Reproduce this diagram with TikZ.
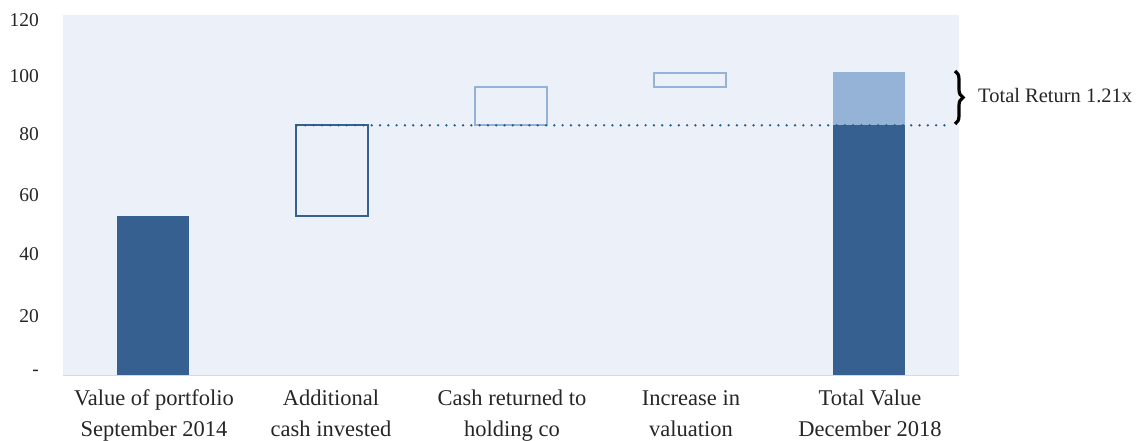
\documentclass[tikz,border=0pt]{standalone}
\usepackage{fontspec}
\setmainfont{Liberation Serif}
\usetikzlibrary{decorations.pathreplacing}
\definecolor{bgc}{HTML}{ECF0F8}
\definecolor{darkbar}{HTML}{36608F}
\definecolor{lightbar}{HTML}{95B3D7}
\definecolor{dotc}{HTML}{1F5F8B}
\definecolor{axisc}{HTML}{D9D9D9}
\definecolor{txt}{HTML}{262626}
\tikzset{
  tick/.style={anchor=east, font=\fontsize{19.5}{19.5}\selectfont, text=txt, inner sep=0pt},
  cat/.style={anchor=center, align=center, font=\fontsize{22.5}{31}\selectfont, text=txt, inner sep=0pt},
  solidbar/.style={fill=darkbar, draw=none},
  upbar/.style={fill=lightbar, draw=none},
  darkbox/.style={draw=darkbar, line width=1.8pt},
  lightbox/.style={draw=lightbar, line width=1.8pt},
  refline/.style={draw=dotc, line width=2.6pt, dash pattern=on 0pt off 8.3pt, line cap=round},
}
\begin{document}
\begin{tikzpicture}[x=1pt,y=-1pt]
\useasboundingbox (0,0) rectangle (1138,441);
% plot area
\fill[bgc] (63,15) rectangle (959,375);
\draw[axisc, line width=1pt] (63,375.5) -- (959,375.5);
% ticks
\node[tick] (t120) at (39,20) {120};
\node[tick] (t100) at (39,76) {100};
\node[tick] (t80) at (39,134) {80};
\node[tick] (t60) at (39,195) {60};
\node[tick] (t40) at (39,254) {40};
\node[tick] (t20) at (39,316) {20};
\node[tick] (t0) at (39,373) {-};
% bars
\fill[solidbar] (117,216) rectangle (189,375);
\draw[darkbox] (296,125.3) rectangle (368,216);
\draw[lightbox] (475,86.7) rectangle (547,125.3);
\draw[lightbox] (654,72.7) rectangle (726,86.7);
\fill[upbar] (833,72.3) rectangle (905,125.3);
\fill[solidbar] (833,125.3) rectangle (905,375);
% reference line
\coordinate (ls) at (297,125.3);
\coordinate (le) at (947,125.3);
\draw[refline] (ls) -- (le);
% brace
\coordinate (bt) at (955,71);
\coordinate (bb) at (955,124);
\draw[decorate, decoration={brace, amplitude=8pt}, line width=3.2pt] (bt) -- (bb);
\node[anchor=west, font=\fontsize{20.5}{20.5}\selectfont, text=txt, inner sep=0pt] (tr) at (978,96) {Total Return 1.21x};
% categories
\node[cat] (c1) at (154,415) {\strut Value of portfolio\\\strut September 2014};
\node[cat] (c2) at (331,415) {\strut Additional\\\strut cash invested};
\node[cat] (c3) at (512,415) {\strut Cash returned to\\\strut holding co};
\node[cat] (c4) at (691,415) {\strut Increase in\\\strut valuation};
\node[cat] (c5) at (870,415) {\strut Total Value\\\strut December 2018};
\end{tikzpicture}
\end{document}
